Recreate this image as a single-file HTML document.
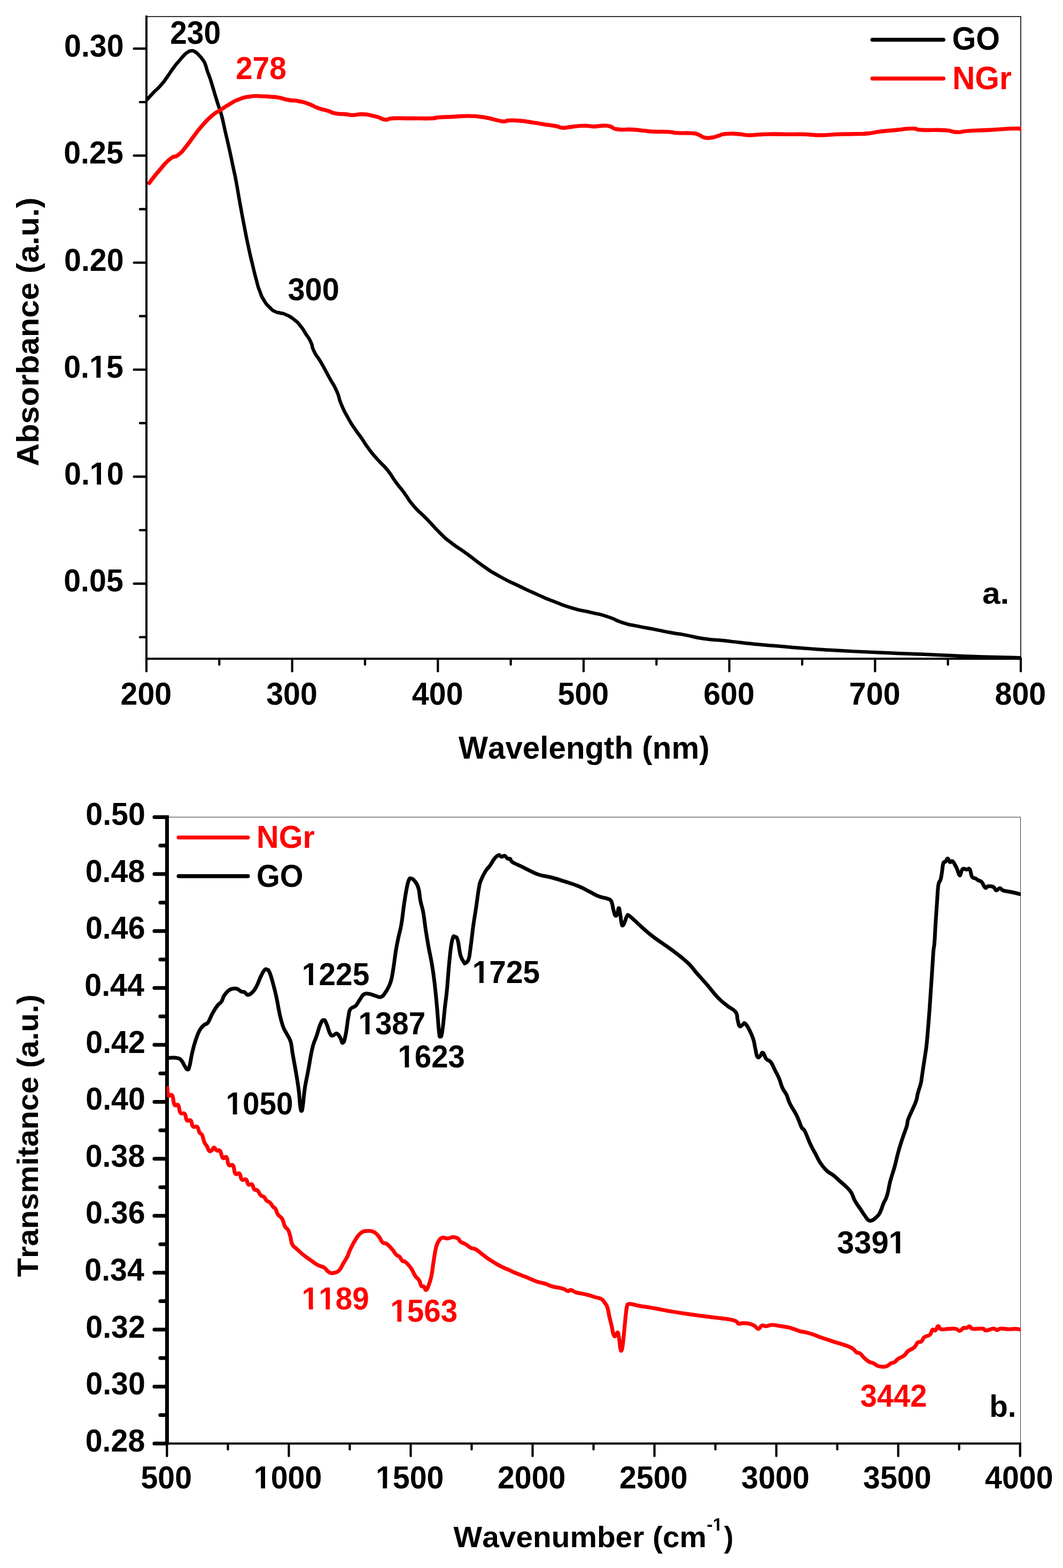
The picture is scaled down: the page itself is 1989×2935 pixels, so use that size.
<!DOCTYPE html>
<html lang="en">
<head>
<meta charset="utf-8">
<title>UV-Vis and FTIR spectra of GO and NGr</title>
<style>
html,body{margin:0;padding:0;background:#fff;}
body{width:1989px;height:2935px;overflow:hidden;}
svg{display:block;}
svg text{font-family:"Liberation Sans", sans-serif;font-weight:bold;font-kerning:none;}
</style>
</head>
<body>
<svg width="1989" height="2935" viewBox="0 0 1989 2935" role="img" aria-label="UV-Vis absorbance (a) and FTIR transmittance (b) spectra of GO and NGr">
<rect x="0" y="0" width="1989" height="2935" fill="#ffffff"/>
<defs><clipPath id="c1"><path clip-rule="evenodd" d="M-50,-100H174V50H-50ZM50.38,-6.96H62.98V2.95H50.38ZM71.06,-6.96H82.24V2.95H71.06Z"/></clipPath><clipPath id="c2"><path clip-rule="evenodd" d="M-50,-100H174V50H-50ZM50.38,-6.96H62.98V2.95H50.38ZM71.06,-6.96H82.24V2.95H71.06Z"/></clipPath><clipPath id="c3"><path clip-rule="evenodd" d="M-50,-100H190V50H-50ZM1.18,-6.96H13.78V2.95H1.18ZM21.86,-6.96H33.04V2.95H21.86Z"/></clipPath><clipPath id="c4"><path clip-rule="evenodd" d="M-50,-100H190V50H-50ZM1.18,-6.96H13.78V2.95H1.18ZM21.86,-6.96H33.04V2.95H21.86Z"/></clipPath><clipPath id="c5"><path clip-rule="evenodd" d="M-50,-100H190V50H-50ZM1.18,-6.96H13.78V2.95H1.18ZM21.86,-6.96H33.04V2.95H21.86Z"/></clipPath><clipPath id="c6"><path clip-rule="evenodd" d="M-50,-100H190V50H-50ZM1.18,-6.96H13.78V2.95H1.18ZM21.86,-6.96H33.04V2.95H21.86Z"/></clipPath><clipPath id="c7"><path clip-rule="evenodd" d="M-50,-100H190V50H-50ZM1.18,-6.96H13.78V2.95H1.18ZM21.86,-6.96H33.04V2.95H21.86Z"/></clipPath><clipPath id="c8"><path clip-rule="evenodd" d="M-50,-100H190V50H-50ZM1.18,-6.96H13.78V2.95H1.18ZM21.86,-6.96H33.04V2.95H21.86Z"/></clipPath><clipPath id="c9"><path clip-rule="evenodd" d="M-50,-100H190V50H-50ZM1.18,-6.96H13.78V2.95H1.18ZM21.86,-6.96H33.04V2.95H21.86Z"/></clipPath><clipPath id="c10"><path clip-rule="evenodd" d="M-50,-100H190V50H-50ZM99.62,-6.96H112.22V2.95H99.62ZM120.30,-6.96H131.48V2.95H120.30Z"/></clipPath><clipPath id="c11"><path clip-rule="evenodd" d="M-50,-100H190V50H-50ZM1.18,-6.96H13.78V2.95H1.18ZM21.86,-6.96H33.04V2.95H21.86ZM33.99,-6.96H46.59V2.95H33.99ZM54.67,-6.96H65.85V2.95H54.67Z"/></clipPath><clipPath id="c12"><path clip-rule="evenodd" d="M-50,-100H190V50H-50ZM1.18,-6.96H13.78V2.95H1.18ZM21.86,-6.96H33.04V2.95H21.86Z"/></clipPath><clipPath id="c13"><path clip-rule="evenodd" d="M-50,-100H111V50H-50ZM20.83,-6.96H33.42V2.95H20.83ZM41.51,-6.96H52.69V2.95H41.51Z"/></clipPath></defs>
<g id="chartA">
<clipPath id="clipA"><rect x="274" y="20" width="1637" height="1217"/></clipPath>
<line x1="274.00" y1="31.00" x2="1910.80" y2="31.00" stroke="#333" stroke-width="1.6" stroke-linecap="butt" shape-rendering="crispEdges"/>
<line x1="1910.00" y1="31.00" x2="1910.00" y2="1233.00" stroke="#333" stroke-width="1.6" stroke-linecap="butt" shape-rendering="crispEdges"/>
<g clip-path="url(#clipA)">
<path d="M274.0,187.8C278.2,183.2 277.3,183.7 286.5,174.0C295.7,164.3 292.8,168.9 301.7,158.7C310.6,148.5 305.6,154.1 313.2,143.5C320.8,132.9 317.0,137.2 324.6,127.0C332.2,116.8 329.2,121.0 336.0,113.0C342.8,105.0 339.8,108.0 344.9,102.9C350.0,97.8 347.1,100.4 351.3,97.8C355.5,95.2 353.0,95.4 357.6,95.2C362.2,95.0 360.1,94.1 365.2,97.1C370.3,100.1 368.2,99.2 372.9,104.1C377.6,109.0 375.6,106.6 379.2,111.7C382.8,116.8 380.7,112.2 383.7,119.4C386.7,126.6 384.9,124.0 388.1,133.3C391.3,142.6 389.8,137.1 393.2,147.3C396.6,157.5 394.9,152.8 398.3,163.8C401.7,174.8 399.9,169.3 403.3,180.3C406.7,191.3 405.0,186.2 408.4,196.8C411.8,207.4 410.3,201.1 413.5,212.1C416.7,223.1 415.3,218.7 417.9,229.8C420.5,240.9 417.6,229.2 421.3,245.4C425.0,261.6 423.8,255.5 428.9,278.4C434.0,301.3 432.2,293.5 436.5,314.0C440.8,334.5 437.6,316.9 441.9,340.0C446.2,363.1 444.4,355.3 449.5,383.2C454.6,411.1 452.0,397.6 457.1,423.8C462.2,450.0 459.7,438.2 464.8,461.9C469.9,485.6 467.3,473.7 472.4,494.9C477.5,516.1 475.4,508.5 480.0,525.4C484.6,542.3 481.6,533.4 486.3,545.7C491.0,558.0 488.1,552.5 494.0,562.2C499.9,571.9 497.3,568.0 504.1,574.9C510.9,581.8 507.5,579.4 514.3,583.0C521.1,586.6 517.6,583.8 524.4,585.8C531.2,587.8 526.1,584.9 534.6,588.9C543.1,592.9 540.5,590.6 549.8,597.8C559.1,605.0 554.9,601.2 562.5,610.5C570.1,619.8 566.3,615.8 572.7,625.7C579.1,635.6 576.5,629.5 581.6,640.3C586.7,651.1 581.6,645.4 587.9,658.1C594.2,670.8 591.3,662.3 600.6,678.4C609.9,694.5 606.2,688.5 615.9,706.3C625.6,724.1 622.2,714.8 629.8,731.7C637.4,748.6 631.5,740.2 638.7,757.1C645.9,774.0 642.9,767.2 651.4,782.5C659.9,797.8 655.6,790.2 664.1,802.9C672.6,815.6 669.2,809.6 676.8,820.6C684.4,831.6 679.4,825.3 687.0,835.9C694.6,846.5 691.2,842.3 699.7,852.4C708.2,862.5 703.5,856.6 712.4,866.3C721.3,876.0 717.0,869.7 726.3,881.6C735.6,893.5 731.0,889.2 740.3,901.9C749.6,914.6 747.7,911.0 754.3,919.7C760.9,928.4 753.0,918.4 760.0,927.9C767.0,937.4 762.5,933.9 775.2,948.3C787.9,962.7 782.0,954.6 798.1,971.1C814.2,987.6 808.3,983.0 823.5,997.8C838.7,1012.6 826.9,1002.5 843.8,1015.6C860.7,1028.7 854.0,1022.3 874.3,1037.1C894.6,1051.9 884.5,1046.0 904.8,1060.0C925.1,1074.0 913.2,1066.7 935.2,1079.0C957.2,1091.3 947.9,1085.8 970.8,1096.8C993.7,1107.8 981.8,1102.4 1003.8,1112.1C1025.8,1121.8 1013.9,1117.1 1036.8,1126.0C1059.7,1134.9 1049.5,1131.9 1072.4,1138.7C1095.3,1145.5 1084.2,1141.2 1105.4,1146.3C1126.6,1151.4 1115.9,1147.5 1135.9,1154.0C1155.9,1160.5 1147.1,1159.8 1165.4,1165.7C1183.7,1171.6 1171.3,1167.5 1190.8,1171.6C1210.3,1175.7 1202.6,1173.8 1223.8,1177.9C1245.0,1182.0 1234.8,1180.4 1254.3,1184.0C1273.8,1187.6 1261.9,1184.9 1282.2,1188.6C1302.5,1192.3 1292.3,1191.8 1315.2,1195.2C1338.1,1198.6 1327.9,1196.3 1350.8,1198.7C1373.7,1201.1 1360.9,1200.0 1383.8,1202.5C1406.7,1205.0 1394.8,1203.9 1419.4,1206.3C1444.0,1208.7 1432.1,1207.5 1457.5,1209.6C1482.9,1211.7 1468.1,1210.6 1495.6,1212.7C1523.1,1214.8 1514.9,1214.3 1540.0,1216.0C1565.1,1217.7 1535.1,1215.9 1570.8,1217.8C1606.5,1219.7 1596.2,1219.3 1647.0,1221.6C1697.8,1223.9 1672.4,1222.5 1723.2,1224.6C1774.0,1226.7 1757.1,1226.2 1799.4,1227.9C1841.7,1229.6 1813.8,1228.6 1850.2,1229.7C1886.6,1230.8 1889.1,1230.7 1908.6,1231.2" fill="none" stroke="#000" stroke-width="6.5" stroke-linejoin="round" stroke-linecap="round"/>
<path d="M279.2,342.7C285.5,334.8 285.0,334.1 298.1,319.0C311.2,303.9 306.5,307.2 318.4,297.5C330.3,287.8 323.5,297.9 333.7,289.8C343.9,281.7 338.8,285.6 348.9,273.3C359.0,261.0 353.9,266.1 364.1,253.0C374.3,239.9 368.4,246.3 379.4,234.0C390.4,221.7 386.1,225.5 397.1,216.2C408.1,206.9 401.4,213.2 412.4,206.0C423.4,198.8 418.4,201.4 430.2,194.6C442.0,187.8 435.2,190.4 447.9,185.7C460.6,181.0 454.7,182.5 468.3,180.6C481.9,178.7 475.9,179.9 488.6,180.1C501.3,180.3 495.3,180.2 506.3,181.1C517.3,182.0 510.6,180.7 521.6,182.7C532.6,184.7 526.7,184.7 539.4,187.0C552.1,189.3 547.0,187.0 559.7,189.5C572.4,192.0 565.7,190.4 577.5,194.6C589.3,198.8 583.4,198.0 595.2,202.2C607.0,206.4 602.0,203.9 613.0,207.3C624.0,210.7 617.3,210.3 628.3,212.4C639.3,214.5 635.3,212.7 646.0,213.7C656.7,214.7 649.6,215.4 660.3,215.4C671.0,215.4 666.2,213.5 678.1,213.8C690.0,214.1 685.7,214.4 695.9,216.4C706.1,218.4 700.1,217.2 708.6,219.7C717.1,222.2 712.4,223.4 721.3,224.0C730.2,224.6 720.0,222.3 735.2,221.5C750.4,220.7 742.9,221.5 767.0,221.5C791.1,221.5 790.7,222.0 807.6,221.5C824.5,221.0 805.9,220.8 817.8,219.9C829.7,219.0 823.7,219.6 843.2,218.7C862.7,217.8 857.6,217.1 876.2,217.1C894.8,217.1 886.3,217.3 899.0,218.7C911.7,220.1 903.3,218.9 914.3,221.2C925.3,223.5 922.4,223.5 932.1,225.5C941.8,227.5 936.7,227.3 943.5,227.3C950.3,227.3 942.7,225.9 952.4,225.5C962.1,225.1 958.3,224.8 972.7,226.0C987.1,227.2 981.2,227.0 995.6,229.1C1010.0,231.2 1001.1,230.1 1015.9,232.4C1030.7,234.7 1027.7,233.7 1040.0,236.0C1052.3,238.3 1042.5,238.8 1052.7,239.2C1062.9,239.6 1057.0,238.5 1070.5,237.2C1084.0,235.9 1079.8,235.6 1093.3,235.4C1106.8,235.2 1099.2,236.8 1111.1,236.7C1123.0,236.6 1118.7,235.2 1128.9,235.2C1139.1,235.2 1132.7,234.4 1141.6,236.7C1150.5,239.0 1142.1,240.1 1155.6,242.0C1169.1,243.9 1165.7,241.6 1182.2,242.5C1198.7,243.4 1191.5,243.3 1205.1,244.6C1218.7,245.9 1207.7,245.5 1222.9,246.3C1238.1,247.1 1235.6,246.0 1250.8,246.9C1266.0,247.8 1254.2,248.1 1268.6,248.9C1283.0,249.7 1281.3,248.4 1294.0,249.4C1306.7,250.4 1298.7,249.3 1306.7,251.9C1314.7,254.5 1309.6,255.4 1318.1,257.3C1326.6,259.2 1323.2,258.6 1332.1,257.5C1341.0,256.4 1336.3,256.3 1344.8,254.0C1353.3,251.7 1345.7,251.8 1357.5,250.7C1369.3,249.6 1365.9,249.9 1380.3,250.7C1394.7,251.5 1387.0,252.6 1400.6,253.0C1414.2,253.4 1407.9,252.5 1421.0,251.9C1434.1,251.3 1419.9,251.3 1440.0,251.1C1460.1,250.9 1460.1,251.3 1481.3,251.4C1502.5,251.5 1485.5,250.9 1503.5,251.4C1521.5,251.9 1514.0,253.0 1535.2,253.0C1556.4,253.0 1545.8,252.1 1567.0,251.4C1588.2,250.7 1579.7,251.3 1598.7,250.8C1617.7,250.3 1608.2,251.3 1624.1,249.8C1640.0,248.3 1628.3,248.5 1646.3,246.3C1664.3,244.1 1658.0,245.1 1678.1,243.2C1698.2,241.3 1690.8,240.6 1706.7,240.6C1722.6,240.6 1705.6,242.1 1725.7,243.2C1745.8,244.3 1745.3,242.4 1767.0,243.8C1788.7,245.2 1776.0,246.9 1790.8,247.3C1805.6,247.7 1790.8,246.5 1811.4,245.1C1832.0,243.7 1824.1,244.7 1852.7,243.2C1881.3,241.7 1878.1,241.0 1897.1,240.6C1916.1,240.2 1905.6,241.5 1909.8,241.9" fill="none" stroke="#ff0000" stroke-width="7.4" stroke-linejoin="round" stroke-linecap="round"/>
</g>
<line x1="274.00" y1="29.00" x2="274.00" y2="1235.20" stroke="#000" stroke-width="4" stroke-linecap="butt" shape-rendering="crispEdges"/>
<line x1="272.00" y1="1233.00" x2="1912.00" y2="1233.00" stroke="#000" stroke-width="4.5" stroke-linecap="butt" shape-rendering="crispEdges"/>
<line x1="250.70" y1="91.00" x2="273.50" y2="91.00" stroke="#000" stroke-width="4.4" stroke-linecap="round"/>
<text transform="translate(120.05,105.90) scale(0.9720,1.0122)" font-size="59" fill="#000000">0.30</text>
<line x1="250.70" y1="291.30" x2="273.50" y2="291.30" stroke="#000" stroke-width="4.4" stroke-linecap="round"/>
<text transform="translate(119.19,306.20) scale(0.9720,1.0122)" font-size="59" fill="#000000">0.25</text>
<line x1="250.70" y1="491.60" x2="273.50" y2="491.60" stroke="#000" stroke-width="4.4" stroke-linecap="round"/>
<text transform="translate(120.05,506.50) scale(0.9720,1.0122)" font-size="59" fill="#000000">0.20</text>
<line x1="250.70" y1="691.90" x2="273.50" y2="691.90" stroke="#000" stroke-width="4.4" stroke-linecap="round"/>
<text transform="translate(119.19,706.80) scale(0.9720,1.0122)" font-size="59" fill="#000000" clip-path="url(#c1)">0.15</text>
<line x1="250.70" y1="892.20" x2="273.50" y2="892.20" stroke="#000" stroke-width="4.4" stroke-linecap="round"/>
<text transform="translate(120.05,907.10) scale(0.9720,1.0122)" font-size="59" fill="#000000" clip-path="url(#c2)">0.10</text>
<line x1="250.70" y1="1092.50" x2="273.50" y2="1092.50" stroke="#000" stroke-width="4.4" stroke-linecap="round"/>
<text transform="translate(119.19,1107.40) scale(0.9720,1.0122)" font-size="59" fill="#000000">0.05</text>
<line x1="262.00" y1="191.15" x2="273.50" y2="191.15" stroke="#000" stroke-width="4.4" stroke-linecap="round"/>
<line x1="262.00" y1="391.45" x2="273.50" y2="391.45" stroke="#000" stroke-width="4.4" stroke-linecap="round"/>
<line x1="262.00" y1="591.75" x2="273.50" y2="591.75" stroke="#000" stroke-width="4.4" stroke-linecap="round"/>
<line x1="262.00" y1="792.05" x2="273.50" y2="792.05" stroke="#000" stroke-width="4.4" stroke-linecap="round"/>
<line x1="262.00" y1="992.35" x2="273.50" y2="992.35" stroke="#000" stroke-width="4.4" stroke-linecap="round"/>
<line x1="262.00" y1="1192.65" x2="273.50" y2="1192.65" stroke="#000" stroke-width="4.4" stroke-linecap="round"/>
<line x1="274.00" y1="1233.00" x2="274.00" y2="1256.50" stroke="#000" stroke-width="4.2" stroke-linecap="round"/>
<text transform="translate(225.52,1319.00) scale(0.9720,1.0146)" font-size="59" fill="#000000">200</text>
<line x1="546.67" y1="1233.00" x2="546.67" y2="1256.50" stroke="#000" stroke-width="4.2" stroke-linecap="round"/>
<text transform="translate(498.19,1319.00) scale(0.9720,1.0146)" font-size="59" fill="#000000">300</text>
<line x1="819.33" y1="1233.00" x2="819.33" y2="1256.50" stroke="#000" stroke-width="4.2" stroke-linecap="round"/>
<text transform="translate(770.86,1319.00) scale(0.9720,1.0146)" font-size="59" fill="#000000">400</text>
<line x1="1092.00" y1="1233.00" x2="1092.00" y2="1256.50" stroke="#000" stroke-width="4.2" stroke-linecap="round"/>
<text transform="translate(1043.52,1319.00) scale(0.9720,1.0146)" font-size="59" fill="#000000">500</text>
<line x1="1364.67" y1="1233.00" x2="1364.67" y2="1256.50" stroke="#000" stroke-width="4.2" stroke-linecap="round"/>
<text transform="translate(1316.19,1319.00) scale(0.9720,1.0146)" font-size="59" fill="#000000">600</text>
<line x1="1637.33" y1="1233.00" x2="1637.33" y2="1256.50" stroke="#000" stroke-width="4.2" stroke-linecap="round"/>
<text transform="translate(1588.86,1319.00) scale(0.9720,1.0146)" font-size="59" fill="#000000">700</text>
<line x1="1910.00" y1="1233.00" x2="1910.00" y2="1256.50" stroke="#000" stroke-width="4.2" stroke-linecap="round"/>
<text transform="translate(1861.52,1319.00) scale(0.9720,1.0146)" font-size="59" fill="#000000">800</text>
<line x1="410.33" y1="1233.00" x2="410.33" y2="1244.00" stroke="#000" stroke-width="4.2" stroke-linecap="round"/>
<line x1="683.00" y1="1233.00" x2="683.00" y2="1244.00" stroke="#000" stroke-width="4.2" stroke-linecap="round"/>
<line x1="955.67" y1="1233.00" x2="955.67" y2="1244.00" stroke="#000" stroke-width="4.2" stroke-linecap="round"/>
<line x1="1228.33" y1="1233.00" x2="1228.33" y2="1244.00" stroke="#000" stroke-width="4.2" stroke-linecap="round"/>
<line x1="1501.00" y1="1233.00" x2="1501.00" y2="1244.00" stroke="#000" stroke-width="4.2" stroke-linecap="round"/>
<line x1="1773.67" y1="1233.00" x2="1773.67" y2="1244.00" stroke="#000" stroke-width="4.2" stroke-linecap="round"/>
<line x1="1632.20" y1="74.30" x2="1765.30" y2="74.30" stroke="#000" stroke-width="7.3" stroke-linecap="round"/>
<line x1="1632.20" y1="147.00" x2="1765.30" y2="147.00" stroke="#ff0000" stroke-width="7.3" stroke-linecap="round"/>
</g>
<g id="chartB">
<clipPath id="clipB"><rect x="311.6" y="1520" width="1598.5" height="1186"/></clipPath>
<line x1="312.40" y1="1529.50" x2="1910.10" y2="1529.50" stroke="#333" stroke-width="1.6" stroke-linecap="butt" shape-rendering="crispEdges"/>
<line x1="1909.30" y1="1529.50" x2="1909.30" y2="2702.00" stroke="#333" stroke-width="1.6" stroke-linecap="butt" shape-rendering="crispEdges"/>
<line x1="312.40" y1="1526.00" x2="312.40" y2="2704.00" stroke="#000" stroke-width="7" stroke-linecap="butt" shape-rendering="crispEdges"/>
<line x1="310.40" y1="2702.00" x2="1911.30" y2="2702.00" stroke="#000" stroke-width="4.5" stroke-linecap="butt" shape-rendering="crispEdges"/>
<g clip-path="url(#clipB)">
<path d="M313.2,2036.3C313.7,2039.6 313.1,2047.2 315.2,2050.5C317.3,2053.8 319.7,2046.5 322.3,2050.5C324.9,2054.5 323.8,2063.4 326.4,2067.7C329.0,2072.0 330.9,2065.2 333.5,2068.8C336.1,2072.4 334.8,2079.2 337.6,2083.0C340.4,2086.8 342.9,2081.7 345.7,2085.0C348.5,2088.3 347.2,2094.4 349.8,2097.2C352.4,2100.0 354.3,2094.6 356.9,2097.2C359.5,2099.8 358.2,2105.6 361.0,2108.4C363.8,2111.2 366.3,2106.8 369.1,2109.4C371.9,2112.0 371.0,2116.1 373.1,2119.6C375.2,2123.1 376.1,2120.4 378.2,2124.6C380.3,2128.8 380.2,2132.8 382.3,2137.8C384.4,2142.8 385.3,2142.2 387.4,2146.0C389.5,2149.8 389.3,2152.4 391.4,2154.1C393.5,2155.8 394.4,2154.5 396.5,2153.1C398.6,2151.7 398.5,2147.9 400.6,2148.0C402.7,2148.1 403.1,2152.3 405.7,2153.7C408.3,2155.1 409.1,2150.9 411.7,2154.1C414.3,2157.3 414.0,2164.5 416.8,2167.3C419.6,2170.1 421.3,2163.2 423.9,2166.3C426.5,2169.4 425.2,2177.0 428.0,2180.5C430.8,2184.0 433.3,2177.7 436.1,2181.5C438.9,2185.3 437.4,2193.2 440.2,2196.8C443.0,2200.4 445.5,2194.2 448.3,2196.8C451.1,2199.4 449.6,2205.3 452.4,2207.9C455.2,2210.5 457.7,2205.8 460.5,2207.9C463.3,2210.0 462.0,2215.0 464.6,2217.1C467.2,2219.2 469.1,2215.0 471.7,2217.1C474.3,2219.2 473.3,2223.6 475.7,2226.2C478.1,2228.8 479.0,2225.7 481.8,2228.3C484.6,2230.9 485.1,2234.6 487.9,2237.4C490.7,2240.2 491.4,2238.0 494.0,2240.4C496.6,2242.8 496.5,2245.1 499.1,2247.6C501.7,2250.1 502.4,2248.3 505.2,2251.0C508.0,2253.7 508.7,2256.4 511.0,2259.0C513.3,2261.6 513.0,2258.8 515.2,2262.2C517.4,2265.6 517.3,2269.2 520.3,2273.7C523.3,2278.2 524.9,2276.3 527.9,2281.3C530.9,2286.3 530.3,2290.2 533.0,2295.2C535.7,2300.2 537.0,2298.4 539.4,2302.9C541.8,2307.4 541.4,2308.1 543.2,2314.3C545.0,2320.5 544.0,2323.9 547.0,2329.5C550.0,2335.1 550.9,2333.7 555.9,2338.4C560.9,2343.1 562.7,2345.1 568.6,2349.8C574.5,2354.5 575.4,2354.5 581.3,2358.7C587.2,2362.9 588.1,2364.3 594.0,2367.6C599.9,2370.9 602.0,2369.7 606.7,2372.7C611.4,2375.7 610.4,2377.9 614.3,2380.3C618.1,2382.7 618.5,2383.5 623.2,2382.9C627.9,2382.3 630.2,2382.0 634.6,2377.8C639.0,2373.6 638.7,2371.0 642.2,2365.1C645.7,2359.2 646.8,2358.3 649.8,2352.4C652.8,2346.5 651.3,2347.1 654.9,2339.7C658.5,2332.3 660.4,2328.0 665.1,2320.6C669.8,2313.2 669.9,2311.8 675.2,2307.9C680.5,2304.1 682.0,2304.4 687.9,2304.1C693.8,2303.8 695.6,2304.0 700.6,2306.7C705.6,2309.4 705.9,2311.2 709.5,2315.6C713.1,2320.0 712.6,2322.7 715.9,2325.7C719.2,2328.7 719.3,2325.3 723.5,2328.3C727.7,2331.3 729.5,2333.7 733.7,2338.4C737.9,2343.1 738.1,2345.3 741.3,2348.6C744.5,2351.9 744.9,2349.7 747.6,2352.4C750.3,2355.1 750.0,2357.6 752.7,2360.0C755.4,2362.4 755.1,2359.2 759.0,2362.5C762.9,2365.8 765.0,2368.1 769.2,2374.0C773.4,2379.9 773.3,2382.6 776.8,2387.9C780.3,2393.2 781.7,2392.3 784.4,2396.8C787.1,2401.3 786.2,2404.3 788.3,2407.0C790.4,2409.7 791.2,2406.5 793.3,2408.3C795.4,2410.1 795.0,2415.2 797.1,2414.6C799.2,2414.0 799.8,2411.9 802.2,2405.7C804.6,2399.5 805.2,2398.0 807.3,2387.9C809.4,2377.8 809.3,2373.7 811.1,2362.5C812.9,2351.3 813.1,2348.0 814.9,2339.7C816.7,2331.4 816.0,2332.2 818.7,2327.0C821.4,2321.8 821.8,2319.4 826.3,2317.3C830.8,2315.2 832.8,2318.5 837.8,2318.1C842.8,2317.7 843.5,2315.6 847.9,2315.6C852.3,2315.6 853.5,2316.0 856.8,2318.1C860.1,2320.2 858.3,2321.7 861.9,2324.4C865.5,2327.1 867.6,2326.9 872.1,2329.5C876.6,2332.1 876.8,2333.6 881.0,2335.7C885.2,2337.8 885.1,2335.6 890.2,2338.5C895.3,2341.4 897.6,2344.1 902.9,2348.1C908.2,2352.1 907.7,2352.0 913.0,2355.7C918.3,2359.4 919.8,2360.2 925.7,2363.8C931.6,2367.4 932.5,2368.0 938.4,2371.0C944.3,2374.0 945.2,2373.8 951.1,2376.5C957.0,2379.2 957.9,2379.8 963.8,2382.4C969.7,2385.0 970.6,2385.1 976.5,2387.5C982.4,2389.9 982.7,2389.8 989.2,2392.5C995.7,2395.2 997.3,2396.5 1004.4,2398.9C1011.5,2401.3 1013.2,2400.6 1019.7,2402.7C1026.2,2404.8 1026.5,2406.0 1032.4,2407.8C1038.3,2409.6 1039.8,2409.1 1045.1,2410.3C1050.4,2411.5 1051.0,2411.4 1055.2,2412.9C1059.4,2414.4 1059.9,2416.3 1062.9,2416.7C1065.9,2417.1 1064.4,2414.0 1067.9,2414.6C1071.4,2415.2 1072.8,2417.5 1078.1,2419.2C1083.4,2420.9 1084.9,2420.4 1090.8,2421.7C1096.7,2423.0 1098.2,2423.3 1103.5,2424.8C1108.8,2426.3 1108.7,2426.6 1113.7,2428.1C1118.7,2429.6 1121.0,2429.0 1125.1,2431.4C1129.2,2433.8 1128.7,2434.6 1131.4,2438.3C1134.1,2442.0 1134.4,2440.9 1136.5,2447.1C1138.6,2453.3 1138.5,2457.2 1140.3,2464.9C1142.1,2472.6 1142.3,2472.5 1144.1,2480.2C1145.9,2487.9 1146.1,2493.2 1147.9,2497.9C1149.7,2502.6 1149.9,2501.4 1151.7,2500.5C1153.5,2499.6 1154.1,2493.5 1155.6,2494.1C1157.1,2494.7 1156.9,2496.2 1158.1,2503.0C1159.3,2509.8 1159.4,2517.7 1160.6,2523.3C1161.8,2528.9 1162.0,2529.5 1163.2,2527.1C1164.4,2524.7 1164.5,2522.4 1165.7,2513.2C1166.9,2504.0 1167.1,2499.7 1168.3,2487.8C1169.5,2475.9 1169.6,2472.5 1170.8,2462.4C1172.0,2452.3 1171.8,2449.6 1173.3,2444.6C1174.8,2439.6 1174.4,2441.5 1177.1,2440.8C1179.8,2440.1 1180.0,2440.7 1184.8,2441.6C1189.6,2442.5 1189.8,2443.2 1197.5,2444.6C1205.2,2446.0 1208.9,2446.2 1217.8,2447.7C1226.7,2449.2 1226.7,2449.3 1235.6,2451.0C1244.5,2452.7 1244.9,2452.9 1255.9,2454.8C1266.9,2456.7 1271.3,2457.3 1282.9,2459.0C1294.5,2460.7 1295.0,2460.8 1305.7,2462.2C1316.4,2463.6 1317.9,2463.8 1328.6,2465.1C1339.3,2466.4 1342.9,2466.8 1351.4,2467.9C1359.9,2469.0 1359.2,2468.6 1365.1,2469.7C1371.0,2470.8 1372.6,2470.8 1376.6,2472.7C1380.6,2474.6 1379.1,2476.8 1382.3,2477.7C1385.5,2478.6 1385.8,2476.6 1390.3,2476.6C1394.8,2476.6 1396.9,2476.6 1401.7,2477.7C1406.5,2478.8 1406.9,2478.9 1410.9,2481.1C1414.9,2483.3 1415.4,2487.3 1418.9,2487.3C1422.4,2487.3 1422.2,2482.3 1425.7,2481.1C1429.2,2479.9 1429.2,2482.6 1433.7,2482.3C1438.2,2482.0 1438.7,2480.0 1445.1,2480.0C1451.5,2480.0 1454.1,2481.2 1461.1,2482.3C1468.1,2483.4 1469.0,2483.3 1474.9,2484.6C1480.8,2485.9 1481.0,2486.3 1486.3,2488.0C1491.6,2489.7 1492.4,2490.5 1497.7,2491.9C1503.0,2493.3 1503.2,2492.7 1509.1,2494.2C1515.0,2495.7 1517.0,2496.3 1522.9,2498.3C1528.8,2500.3 1528.4,2500.8 1534.3,2502.9C1540.2,2505.0 1541.6,2505.3 1548.0,2507.4C1554.4,2509.5 1555.3,2510.0 1561.7,2512.0C1568.1,2514.0 1569.5,2514.2 1575.4,2516.1C1581.3,2518.0 1582.1,2518.0 1586.9,2520.0C1591.7,2522.0 1592.3,2521.9 1596.0,2524.6C1599.7,2527.3 1599.7,2529.3 1602.9,2531.4C1606.1,2533.5 1606.5,2531.4 1609.7,2533.7C1612.9,2536.0 1612.9,2537.8 1616.6,2541.3C1620.3,2544.8 1621.4,2546.1 1625.7,2548.6C1630.0,2551.1 1630.6,2550.0 1634.9,2552.0C1639.2,2554.0 1638.7,2556.0 1644.0,2557.3C1649.3,2558.6 1652.4,2558.9 1657.7,2557.7C1663.0,2556.5 1663.2,2553.9 1666.9,2552.0C1670.6,2550.1 1670.5,2551.7 1673.7,2549.7C1676.9,2547.7 1676.3,2546.4 1680.6,2543.5C1684.9,2540.6 1687.7,2540.5 1692.0,2537.1C1696.3,2533.7 1694.6,2532.6 1698.9,2529.1C1703.2,2525.6 1706.1,2526.0 1710.3,2522.3C1714.5,2518.6 1713.9,2515.8 1717.1,2513.1C1720.3,2510.4 1721.1,2513.3 1724.0,2510.9C1726.9,2508.5 1726.0,2505.8 1729.7,2502.9C1733.4,2500.0 1736.5,2501.5 1740.0,2498.3C1743.5,2495.1 1742.2,2491.0 1744.6,2489.1C1747.0,2487.2 1747.8,2491.9 1750.3,2490.3C1752.8,2488.7 1753.1,2482.8 1755.5,2482.3C1757.9,2481.8 1756.2,2486.8 1760.6,2488.0C1765.0,2489.2 1767.9,2487.5 1774.3,2487.3C1780.7,2487.1 1782.9,2486.4 1788.0,2487.3C1793.1,2488.2 1792.5,2491.4 1796.0,2491.0C1799.5,2490.6 1800.0,2486.9 1802.9,2485.7C1805.8,2484.5 1805.9,2486.4 1808.6,2485.7C1811.3,2485.0 1811.6,2482.3 1814.3,2482.7C1817.0,2483.1 1814.4,2486.3 1820.0,2487.3C1825.6,2488.3 1832.4,2486.2 1838.3,2486.9C1844.2,2487.6 1840.3,2490.3 1845.1,2490.3C1849.9,2490.3 1854.1,2487.1 1858.9,2486.9C1863.7,2486.7 1862.5,2489.6 1865.7,2489.6C1868.9,2489.6 1867.3,2487.3 1872.6,2486.9C1877.9,2486.5 1882.2,2487.9 1888.6,2488.0C1895.0,2488.1 1895.2,2487.1 1900.0,2487.3C1904.8,2487.5 1907.0,2488.4 1909.1,2488.7" fill="none" stroke="#ff0000" stroke-width="7.2" stroke-linejoin="round" stroke-linecap="round"/>
<path d="M315.2,1980.3C318.8,1980.3 324.9,1979.2 330.5,1980.3C336.1,1981.4 335.9,1981.3 339.4,1984.9C342.9,1988.5 343.0,1991.6 345.7,1995.6C348.4,1999.6 348.7,2001.9 350.8,2001.9C352.9,2001.9 352.5,2003.0 354.6,1995.6C356.7,1988.2 357.0,1981.5 359.7,1970.2C362.4,1958.9 362.7,1957.1 366.0,1947.3C369.3,1937.5 369.8,1935.1 373.7,1928.3C377.6,1921.5 379.0,1921.4 382.5,1918.1C386.0,1914.8 385.3,1919.3 388.9,1914.3C392.5,1909.3 393.6,1903.9 397.8,1896.5C402.0,1889.1 402.8,1887.5 406.7,1882.5C410.6,1877.5 411.3,1879.3 414.3,1874.9C417.3,1870.5 416.4,1868.2 419.4,1863.5C422.4,1858.8 423.5,1857.6 427.0,1854.6C430.5,1851.6 430.8,1851.7 434.6,1850.8C438.5,1849.9 439.6,1849.6 443.5,1850.8C447.4,1852.0 447.8,1854.4 451.1,1855.9C454.4,1857.4 454.5,1855.6 457.5,1857.1C460.5,1858.6 460.3,1862.2 463.8,1862.2C467.3,1862.2 468.8,1860.9 472.7,1857.1C476.6,1853.2 476.8,1852.5 480.3,1845.7C483.8,1838.9 484.6,1834.7 487.9,1827.9C491.2,1821.1 491.6,1819.6 494.3,1816.5C497.0,1813.4 497.0,1813.8 499.4,1814.7C501.8,1815.6 501.7,1814.3 504.4,1820.3C507.1,1826.3 507.8,1829.9 510.8,1840.6C513.8,1851.3 514.1,1852.4 517.1,1866.0C520.1,1879.6 520.5,1886.0 523.5,1899.0C526.5,1912.0 526.8,1913.6 529.8,1921.9C532.8,1930.2 532.9,1928.1 536.2,1934.6C539.5,1941.1 541.1,1940.9 543.8,1949.8C546.5,1958.7 545.2,1959.0 547.6,1972.7C550.0,1986.4 551.3,1992.3 554.0,2008.3C556.7,2024.3 557.2,2027.1 559.0,2041.3C560.8,2055.5 560.4,2060.3 561.6,2069.2C562.8,2078.1 562.9,2079.4 564.1,2079.4C565.3,2079.4 565.2,2079.3 566.7,2069.2C568.2,2059.1 568.1,2051.6 570.5,2036.2C572.9,2020.8 573.6,2020.4 576.8,2003.2C580.0,1986.0 580.8,1977.3 584.4,1962.5C588.0,1947.7 588.5,1950.4 592.1,1939.7C595.7,1929.0 596.5,1923.9 599.7,1916.8C602.9,1909.7 603.3,1909.2 606.0,1909.2C608.7,1909.2 608.4,1910.9 611.1,1916.8C613.8,1922.7 614.8,1929.6 617.5,1934.6C620.2,1939.6 619.5,1938.4 622.5,1938.4C625.5,1938.4 626.9,1933.7 630.2,1934.6C633.5,1935.5 633.8,1938.2 636.5,1942.2C639.2,1946.2 639.2,1953.1 641.6,1951.9C644.0,1950.7 644.3,1948.3 646.7,1937.1C649.1,1925.9 649.6,1915.3 651.7,1904.1C653.8,1892.9 652.3,1893.9 655.6,1888.9C658.9,1883.9 661.6,1886.7 665.7,1882.5C669.8,1878.3 669.7,1876.1 673.3,1871.1C676.9,1866.1 676.8,1863.5 681.0,1861.0C685.2,1858.5 686.0,1859.8 691.1,1860.5C696.2,1861.2 697.8,1862.8 702.9,1864.1C708.0,1865.4 708.6,1867.8 713.0,1866.0C717.4,1864.2 717.7,1862.9 721.9,1856.5C726.1,1850.1 727.5,1848.8 730.8,1838.7C734.1,1828.6 733.5,1827.5 735.9,1813.3C738.3,1799.1 738.6,1792.0 741.0,1777.8C743.4,1763.6 743.6,1763.7 746.0,1752.4C748.4,1741.1 748.7,1743.7 751.1,1729.5C753.5,1715.3 753.8,1707.4 756.2,1691.4C758.6,1675.4 759.2,1671.4 761.3,1661.0C763.4,1650.6 763.3,1650.9 765.1,1647.0C766.9,1643.1 766.5,1644.1 768.9,1644.4C771.3,1644.7 771.9,1644.1 775.2,1648.3C778.5,1652.5 780.2,1653.3 782.9,1662.2C785.6,1671.1 784.6,1675.9 786.7,1686.3C788.8,1696.7 789.3,1693.7 791.7,1706.7C794.1,1719.7 794.4,1726.8 796.8,1742.2C799.2,1757.6 799.2,1757.9 801.9,1772.7C804.6,1787.5 805.6,1789.7 808.3,1805.7C811.0,1821.7 811.2,1823.1 813.3,1841.3C815.4,1859.5 815.6,1862.8 817.5,1883.5C819.4,1904.2 819.8,1916.8 821.3,1930.0C822.8,1943.2 822.3,1940.0 823.8,1940.0C825.3,1940.0 825.5,1943.2 827.6,1930.0C829.7,1916.8 830.7,1901.2 832.7,1883.5C834.7,1865.8 834.5,1871.5 836.2,1854.0C837.9,1836.5 838.2,1827.3 840.0,1808.3C841.8,1789.3 842.0,1785.2 843.8,1772.7C845.6,1760.2 845.8,1759.3 847.6,1754.9C849.4,1750.5 849.3,1752.5 851.4,1753.7C853.5,1754.9 854.1,1752.0 856.5,1760.0C858.9,1768.0 858.9,1778.4 861.6,1787.9C864.3,1797.4 865.8,1797.1 867.9,1800.6C870.0,1804.1 868.4,1803.9 870.5,1802.7C872.6,1801.5 874.4,1802.6 876.8,1795.6C879.2,1788.6 878.5,1787.5 880.6,1772.7C882.7,1757.9 883.3,1749.3 885.7,1732.1C888.1,1714.9 888.4,1715.0 890.8,1699.0C893.2,1683.0 893.8,1675.3 895.9,1663.5C898.0,1651.7 896.7,1656.0 899.7,1648.3C902.7,1640.6 904.6,1637.1 908.6,1630.5C912.6,1623.9 913.2,1625.4 917.0,1620.0C920.8,1614.6 921.3,1612.0 925.0,1607.5C928.7,1603.0 929.9,1601.5 933.0,1600.6C936.1,1599.7 935.4,1603.4 938.1,1603.7C940.8,1604.0 941.7,1601.1 944.4,1601.9C947.1,1602.7 947.1,1605.6 949.5,1607.0C951.9,1608.4 952.5,1606.2 954.6,1607.7C956.7,1609.2 953.4,1609.9 958.4,1613.3C963.4,1616.7 967.9,1618.0 976.2,1622.2C984.5,1626.4 986.3,1627.5 994.0,1631.1C1001.7,1634.7 1000.3,1634.8 1009.2,1637.5C1018.1,1640.2 1020.8,1639.5 1032.1,1642.5C1043.4,1645.5 1045.6,1646.4 1057.5,1650.2C1069.4,1654.0 1072.2,1654.6 1082.9,1659.0C1093.6,1663.4 1094.3,1664.7 1103.2,1669.2C1112.1,1673.7 1113.3,1675.1 1121.0,1678.1C1128.7,1681.1 1130.9,1679.8 1136.2,1681.9C1141.5,1684.0 1141.1,1682.3 1143.8,1687.0C1146.5,1691.7 1145.8,1696.0 1147.6,1702.2C1149.4,1708.4 1149.6,1711.9 1151.4,1713.7C1153.2,1715.5 1153.7,1713.1 1155.2,1709.8C1156.7,1706.5 1156.6,1699.7 1157.8,1699.7C1159.0,1699.7 1159.1,1703.3 1160.3,1709.8C1161.5,1716.3 1161.7,1722.4 1162.9,1727.6C1164.1,1732.8 1163.9,1732.8 1165.4,1732.2C1166.9,1731.6 1167.4,1729.1 1169.2,1725.1C1171.0,1721.1 1171.2,1717.6 1173.0,1714.9C1174.8,1712.2 1173.5,1711.9 1176.8,1713.7C1180.1,1715.5 1180.5,1716.6 1187.0,1722.5C1193.5,1728.4 1195.9,1731.3 1204.8,1739.0C1213.7,1746.7 1214.4,1747.6 1225.1,1755.6C1235.8,1763.6 1239.8,1765.6 1250.5,1773.3C1261.2,1781.0 1261.9,1781.5 1270.8,1788.6C1279.7,1795.7 1281.1,1796.3 1288.6,1803.8C1296.1,1811.3 1294.8,1811.3 1302.9,1820.6C1311.0,1829.9 1313.7,1832.5 1323.2,1843.5C1332.7,1854.5 1334.6,1858.4 1343.5,1867.6C1352.4,1876.8 1353.6,1876.7 1361.3,1882.9C1369.0,1889.1 1372.1,1888.1 1376.5,1894.3C1380.9,1900.5 1378.5,1903.3 1380.3,1909.5C1382.1,1915.7 1381.7,1919.2 1384.1,1921.0C1386.5,1922.8 1388.1,1918.3 1390.5,1917.1C1392.9,1915.9 1391.6,1913.5 1394.3,1915.9C1397.0,1918.3 1398.4,1920.5 1401.9,1927.3C1405.4,1934.1 1406.8,1936.8 1409.5,1945.1C1412.2,1953.4 1411.5,1955.2 1413.3,1962.9C1415.1,1970.6 1415.0,1974.9 1417.1,1978.1C1419.2,1981.3 1419.8,1978.6 1422.2,1976.8C1424.6,1975.0 1424.6,1969.3 1427.3,1970.5C1430.0,1971.7 1430.2,1977.7 1433.7,1981.9C1437.2,1986.1 1438.7,1983.3 1442.5,1988.3C1446.3,1993.3 1446.6,1996.4 1450.2,2003.5C1453.8,2010.6 1454.6,2011.0 1457.8,2018.7C1461.0,2026.4 1460.9,2029.4 1464.1,2036.5C1467.3,2043.6 1468.4,2042.3 1471.7,2049.2C1475.0,2056.1 1473.6,2056.9 1478.1,2066.0C1482.6,2075.1 1485.8,2078.1 1490.8,2088.3C1495.8,2098.5 1496.2,2103.0 1499.7,2109.8C1503.2,2116.6 1502.2,2110.1 1506.0,2117.5C1509.8,2124.9 1511.5,2131.5 1516.2,2141.6C1520.9,2151.7 1521.9,2152.3 1526.3,2160.6C1530.7,2168.9 1530.4,2170.0 1535.2,2177.1C1540.0,2184.2 1541.1,2185.8 1546.7,2191.1C1552.3,2196.4 1553.5,2195.3 1559.4,2200.0C1565.3,2204.7 1566.8,2206.7 1572.1,2211.4C1577.4,2216.1 1577.5,2215.6 1582.2,2220.3C1586.9,2225.0 1588.2,2225.2 1592.4,2231.7C1596.6,2238.2 1595.8,2240.9 1600.0,2248.3C1604.2,2255.7 1606.0,2257.3 1610.2,2263.5C1614.4,2269.7 1613.7,2269.9 1617.8,2274.9C1621.9,2279.9 1622.6,2284.5 1627.9,2285.1C1633.2,2285.7 1636.1,2281.3 1640.6,2277.5C1645.1,2273.7 1644.0,2274.5 1647.0,2268.6C1650.0,2262.7 1650.3,2259.2 1653.3,2252.1C1656.3,2245.0 1656.7,2247.9 1659.7,2238.1C1662.7,2228.3 1662.7,2222.6 1666.0,2210.2C1669.3,2197.8 1670.4,2196.7 1673.7,2184.8C1677.0,2172.9 1676.8,2171.3 1680.0,2159.4C1683.2,2147.5 1683.8,2145.9 1687.6,2134.0C1691.4,2122.1 1693.8,2117.5 1696.5,2108.6C1699.2,2099.7 1696.6,2103.0 1699.0,2095.9C1701.4,2088.8 1703.1,2086.4 1706.7,2078.1C1710.3,2069.8 1711.8,2067.8 1714.3,2060.3C1716.8,2052.8 1715.5,2053.5 1717.5,2046.0C1719.5,2038.5 1721.2,2034.9 1722.9,2028.1C1724.6,2021.3 1723.7,2023.8 1724.8,2016.7C1725.9,2009.6 1726.3,2006.5 1727.6,1997.6C1728.9,1988.7 1729.2,1987.5 1730.5,1978.6C1731.8,1969.7 1732.2,1968.4 1733.3,1959.5C1734.4,1950.6 1734.3,1950.3 1735.2,1940.5C1736.1,1930.7 1736.2,1928.7 1737.1,1917.6C1738.0,1906.5 1738.1,1905.3 1739.0,1892.9C1739.9,1880.5 1740.1,1877.6 1741.0,1864.3C1741.9,1851.0 1742.0,1849.0 1742.9,1835.7C1743.8,1822.4 1743.9,1820.4 1744.8,1807.1C1745.7,1793.8 1745.8,1788.5 1746.7,1778.6C1747.6,1768.7 1747.7,1775.0 1748.5,1764.8C1749.3,1754.6 1749.4,1747.8 1750.2,1735.1C1751.0,1722.4 1751.0,1721.8 1751.8,1710.3C1752.6,1698.8 1752.7,1696.8 1753.5,1685.6C1754.3,1674.4 1754.3,1670.1 1755.1,1662.4C1755.9,1654.7 1755.6,1656.3 1756.8,1652.5C1758.0,1648.7 1758.8,1650.5 1760.1,1645.9C1761.4,1641.3 1761.4,1639.6 1762.5,1632.7C1763.6,1625.8 1763.5,1620.8 1765.0,1616.2C1766.5,1611.6 1767.2,1615.0 1769.1,1612.9C1771.0,1610.8 1771.4,1606.9 1773.3,1607.1C1775.2,1607.3 1775.3,1612.5 1777.4,1613.7C1779.5,1614.9 1780.1,1610.7 1782.4,1612.1C1784.7,1613.5 1785.4,1616.2 1787.3,1619.5C1789.2,1622.8 1788.7,1621.7 1790.6,1626.1C1792.5,1630.5 1793.7,1637.3 1795.6,1638.5C1797.5,1639.7 1797.4,1634.0 1798.9,1631.1C1800.4,1628.2 1799.9,1626.9 1802.2,1626.1C1804.5,1625.3 1805.9,1627.6 1808.8,1627.8C1811.7,1628.0 1812.2,1623.9 1814.5,1627.0C1816.8,1630.1 1816.2,1637.0 1818.7,1641.0C1821.2,1645.0 1822.6,1642.8 1825.3,1644.3C1828.0,1645.8 1827.5,1646.1 1830.2,1647.6C1832.9,1649.1 1833.7,1647.6 1836.8,1650.9C1839.9,1654.2 1840.7,1659.7 1843.4,1661.6C1846.1,1663.5 1844.9,1659.5 1848.4,1659.1C1851.9,1658.7 1854.6,1658.2 1858.3,1660.0C1862.0,1661.8 1861.2,1666.0 1864.1,1666.6C1867.0,1667.2 1867.8,1662.4 1870.7,1662.4C1873.6,1662.4 1872.4,1665.1 1876.4,1666.6C1880.4,1668.1 1883.0,1668.0 1888.0,1669.0C1893.0,1670.0 1893.1,1669.9 1897.9,1671.0C1902.7,1672.1 1906.1,1673.1 1908.6,1673.7" fill="none" stroke="#000" stroke-width="7" stroke-linejoin="round" stroke-linecap="round"/>
</g>
<line x1="288.90" y1="1529.50" x2="312.40" y2="1529.50" stroke="#000" stroke-width="7" stroke-linecap="round"/>
<text transform="translate(160.25,1544.21) scale(0.9720,0.9955)" font-size="59" fill="#000000">0.50</text>
<line x1="288.90" y1="1636.09" x2="312.40" y2="1636.09" stroke="#000" stroke-width="7" stroke-linecap="round"/>
<text transform="translate(159.68,1650.80) scale(0.9720,0.9955)" font-size="59" fill="#000000">0.48</text>
<line x1="288.90" y1="1742.68" x2="312.40" y2="1742.68" stroke="#000" stroke-width="7" stroke-linecap="round"/>
<text transform="translate(159.97,1757.39) scale(0.9720,0.9955)" font-size="59" fill="#000000">0.46</text>
<line x1="288.90" y1="1849.27" x2="312.40" y2="1849.27" stroke="#000" stroke-width="7" stroke-linecap="round"/>
<text transform="translate(158.24,1863.99) scale(0.9720,0.9955)" font-size="59" fill="#000000">0.44</text>
<line x1="288.90" y1="1955.86" x2="312.40" y2="1955.86" stroke="#000" stroke-width="7" stroke-linecap="round"/>
<text transform="translate(160.25,1970.58) scale(0.9720,0.9955)" font-size="59" fill="#000000">0.42</text>
<line x1="288.90" y1="2062.45" x2="312.40" y2="2062.45" stroke="#000" stroke-width="7" stroke-linecap="round"/>
<text transform="translate(160.25,2077.17) scale(0.9720,0.9955)" font-size="59" fill="#000000">0.40</text>
<line x1="288.90" y1="2169.05" x2="312.40" y2="2169.05" stroke="#000" stroke-width="7" stroke-linecap="round"/>
<text transform="translate(159.68,2183.76) scale(0.9720,0.9955)" font-size="59" fill="#000000">0.38</text>
<line x1="288.90" y1="2275.64" x2="312.40" y2="2275.64" stroke="#000" stroke-width="7" stroke-linecap="round"/>
<text transform="translate(159.97,2290.35) scale(0.9720,0.9955)" font-size="59" fill="#000000">0.36</text>
<line x1="288.90" y1="2382.23" x2="312.40" y2="2382.23" stroke="#000" stroke-width="7" stroke-linecap="round"/>
<text transform="translate(158.24,2396.94) scale(0.9720,0.9955)" font-size="59" fill="#000000">0.34</text>
<line x1="288.90" y1="2488.82" x2="312.40" y2="2488.82" stroke="#000" stroke-width="7" stroke-linecap="round"/>
<text transform="translate(160.25,2503.53) scale(0.9720,0.9955)" font-size="59" fill="#000000">0.32</text>
<line x1="288.90" y1="2595.41" x2="312.40" y2="2595.41" stroke="#000" stroke-width="7" stroke-linecap="round"/>
<text transform="translate(160.25,2610.12) scale(0.9720,0.9955)" font-size="59" fill="#000000">0.30</text>
<line x1="288.90" y1="2702.00" x2="312.40" y2="2702.00" stroke="#000" stroke-width="7" stroke-linecap="round"/>
<text transform="translate(159.68,2716.71) scale(0.9720,0.9955)" font-size="59" fill="#000000">0.28</text>
<line x1="299.90" y1="1582.80" x2="312.40" y2="1582.80" stroke="#000" stroke-width="7" stroke-linecap="round"/>
<line x1="299.90" y1="1689.39" x2="312.40" y2="1689.39" stroke="#000" stroke-width="7" stroke-linecap="round"/>
<line x1="299.90" y1="1795.98" x2="312.40" y2="1795.98" stroke="#000" stroke-width="7" stroke-linecap="round"/>
<line x1="299.90" y1="1902.57" x2="312.40" y2="1902.57" stroke="#000" stroke-width="7" stroke-linecap="round"/>
<line x1="299.90" y1="2009.16" x2="312.40" y2="2009.16" stroke="#000" stroke-width="7" stroke-linecap="round"/>
<line x1="299.90" y1="2115.75" x2="312.40" y2="2115.75" stroke="#000" stroke-width="7" stroke-linecap="round"/>
<line x1="299.90" y1="2222.34" x2="312.40" y2="2222.34" stroke="#000" stroke-width="7" stroke-linecap="round"/>
<line x1="299.90" y1="2328.93" x2="312.40" y2="2328.93" stroke="#000" stroke-width="7" stroke-linecap="round"/>
<line x1="299.90" y1="2435.52" x2="312.40" y2="2435.52" stroke="#000" stroke-width="7" stroke-linecap="round"/>
<line x1="299.90" y1="2542.11" x2="312.40" y2="2542.11" stroke="#000" stroke-width="7" stroke-linecap="round"/>
<line x1="299.90" y1="2648.70" x2="312.40" y2="2648.70" stroke="#000" stroke-width="7" stroke-linecap="round"/>
<line x1="312.40" y1="2702.00" x2="312.40" y2="2725.50" stroke="#000" stroke-width="4.2" stroke-linecap="round"/>
<text transform="translate(263.42,2785.91) scale(0.9720,0.9979)" font-size="59" fill="#000000">500</text>
<line x1="540.44" y1="2702.00" x2="540.44" y2="2725.50" stroke="#000" stroke-width="4.2" stroke-linecap="round"/>
<text transform="translate(474.84,2785.91) scale(0.9720,0.9979)" font-size="59" fill="#000000" clip-path="url(#c3)">1000</text>
<line x1="768.49" y1="2702.00" x2="768.49" y2="2725.50" stroke="#000" stroke-width="4.2" stroke-linecap="round"/>
<text transform="translate(702.88,2785.91) scale(0.9720,0.9979)" font-size="59" fill="#000000" clip-path="url(#c4)">1500</text>
<line x1="996.53" y1="2702.00" x2="996.53" y2="2725.50" stroke="#000" stroke-width="4.2" stroke-linecap="round"/>
<text transform="translate(930.92,2785.91) scale(0.9720,0.9979)" font-size="59" fill="#000000">2000</text>
<line x1="1224.57" y1="2702.00" x2="1224.57" y2="2725.50" stroke="#000" stroke-width="4.2" stroke-linecap="round"/>
<text transform="translate(1158.97,2785.91) scale(0.9720,0.9979)" font-size="59" fill="#000000">2500</text>
<line x1="1452.61" y1="2702.00" x2="1452.61" y2="2725.50" stroke="#000" stroke-width="4.2" stroke-linecap="round"/>
<text transform="translate(1387.01,2785.91) scale(0.9720,0.9979)" font-size="59" fill="#000000">3000</text>
<line x1="1680.66" y1="2702.00" x2="1680.66" y2="2725.50" stroke="#000" stroke-width="4.2" stroke-linecap="round"/>
<text transform="translate(1615.05,2785.91) scale(0.9720,0.9979)" font-size="59" fill="#000000">3500</text>
<line x1="1908.70" y1="2702.00" x2="1908.70" y2="2725.50" stroke="#000" stroke-width="4.2" stroke-linecap="round"/>
<text transform="translate(1843.09,2785.91) scale(0.9720,0.9979)" font-size="59" fill="#000000">4000</text>
<line x1="426.42" y1="2702.00" x2="426.42" y2="2713.00" stroke="#000" stroke-width="4.2" stroke-linecap="round"/>
<line x1="654.46" y1="2702.00" x2="654.46" y2="2713.00" stroke="#000" stroke-width="4.2" stroke-linecap="round"/>
<line x1="882.51" y1="2702.00" x2="882.51" y2="2713.00" stroke="#000" stroke-width="4.2" stroke-linecap="round"/>
<line x1="1110.55" y1="2702.00" x2="1110.55" y2="2713.00" stroke="#000" stroke-width="4.2" stroke-linecap="round"/>
<line x1="1338.59" y1="2702.00" x2="1338.59" y2="2713.00" stroke="#000" stroke-width="4.2" stroke-linecap="round"/>
<line x1="1566.64" y1="2702.00" x2="1566.64" y2="2713.00" stroke="#000" stroke-width="4.2" stroke-linecap="round"/>
<line x1="1794.68" y1="2702.00" x2="1794.68" y2="2713.00" stroke="#000" stroke-width="4.2" stroke-linecap="round"/>
<line x1="334.20" y1="1567.60" x2="463.90" y2="1567.60" stroke="#ff0000" stroke-width="7.3" stroke-linecap="round"/>
<line x1="334.20" y1="1640.00" x2="463.90" y2="1640.00" stroke="#000" stroke-width="7.3" stroke-linecap="round"/>
</g>
<g id="labels">
<text transform="translate(318.21,81.90) scale(0.9638,1.0217)" font-size="59" fill="#000000">230</text>
<text transform="translate(440.91,148.01) scale(0.9652,1.0050)" font-size="59" fill="#ff0000">278</text>
<text transform="translate(538.45,561.51) scale(0.9800,1.0026)" font-size="59" fill="#000000">300</text>
<text transform="translate(1837.99,1129.63) scale(1.0239,0.9646)" font-size="59" fill="#000000">a.</text>
<text transform="translate(1781.60,92.90) scale(0.9756,1.0217)" font-size="59" fill="#000000">GO</text>
<text transform="translate(1781.89,167.29) scale(0.9945,1.0337)" font-size="59" fill="#ff0000">NGr</text>
<text transform="translate(857.90,1420.27) scale(0.9888,0.9881)" font-size="59" fill="#000000">Wavelength (nm)</text>
<text transform="translate(480.05,1587.41) scale(0.9776,1.0002)" font-size="59" fill="#ff0000">NGr</text>
<text transform="translate(480.05,1660.01) scale(0.9537,1.0050)" font-size="59" fill="#000000">GO</text>
<text transform="translate(422.52,2086.01) scale(0.9594,1.0050)" font-size="59" fill="#000000" clip-path="url(#c5)">1050</text>
<text transform="translate(564.80,1844.31) scale(0.9636,1.0002)" font-size="59" fill="#000000" clip-path="url(#c6)">1225</text>
<text transform="translate(670.53,1935.91) scale(0.9576,0.9979)" font-size="59" fill="#000000" clip-path="url(#c7)">1387</text>
<text transform="translate(744.33,1997.61) scale(0.9571,1.0026)" font-size="59" fill="#000000" clip-path="url(#c8)">1623</text>
<text transform="translate(883.70,1840.11) scale(0.9644,1.0026)" font-size="59" fill="#000000" clip-path="url(#c9)">1725</text>
<text transform="translate(1565.95,2346.11) scale(0.9836,1.0050)" font-size="59" fill="#000000" clip-path="url(#c10)">3391</text>
<text transform="translate(564.61,2451.01) scale(0.9611,1.0002)" font-size="59" fill="#ff0000" clip-path="url(#c11)">1189</text>
<text transform="translate(730.22,2473.91) scale(0.9595,0.9979)" font-size="59" fill="#ff0000" clip-path="url(#c12)">1563</text>
<text transform="translate(1609.70,2632.91) scale(0.9510,1.0002)" font-size="59" fill="#ff0000">3442</text>
<text transform="translate(1851.22,2651.73) scale(0.9586,0.9593)" font-size="59" fill="#000000">b.</text>
<text transform="translate(848.60,2896.04) scale(0.9629,0.9408)" font-size="59" fill="#000000">Wavenumber (cm</text>
<text transform="translate(1322.46,2864.90) scale(0.5667,0.5601)" font-size="59" fill="#000000" clip-path="url(#c13)">-1</text>
<text transform="translate(1354.63,2896.04) scale(0.9019,0.9408)" font-size="59" fill="#000000">)</text>
<text transform="translate(72.13,872.79) rotate(-90) scale(1.0101,0.9825)" font-size="59" fill="#000000">Absorbance (a.u.)</text>
<text transform="translate(71.40,2390.28) rotate(-90) scale(0.9781,0.9444)" font-size="59" fill="#000000">Transmitance (a.u.)</text>
</g>
</svg>
</body>
</html>
